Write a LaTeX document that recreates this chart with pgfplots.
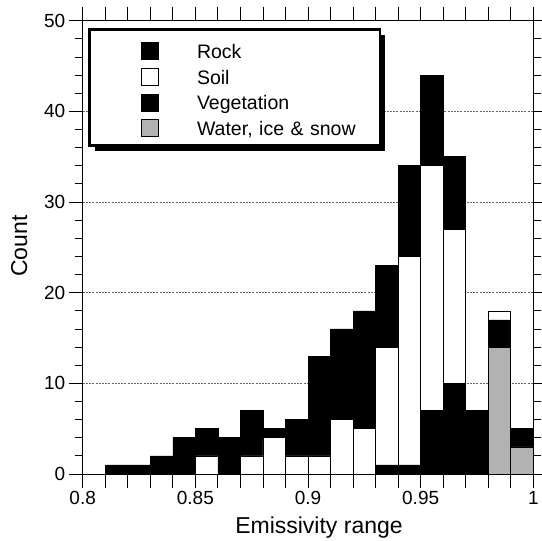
\documentclass[border=0pt]{standalone}
\usepackage{fontspec}
\setmainfont{Liberation Sans}
\usepackage{pgfplots}
\pgfplotsset{compat=1.18}
\usetikzlibrary{shadows}
\definecolor{watergray}{gray}{0.70}
\pgfplotsset{
  sqleg/.style={legend image code/.code={%
    \pgfpathrectangle{\pgfpoint{-52.2pt}{-1pt}}{\pgfpoint{107.5pt}{17pt}}%
    \pgfusepath{use as bounding box}%
    \pgfsetlinewidth{0.6pt}\pgfsetstrokecolor{black}\pgfsetfillcolor{#1}%
    \pgfpathrectangle{\pgfpoint{0pt}{-1pt}}{\pgfpoint{17pt}{17pt}}%
    \pgfusepath{fill,stroke}}},
}
\begin{document}
\begin{tikzpicture}
\begin{axis}[
  name=ax,
  scale only axis,
  width=450.6pt, height=453.3pt,
  xmin=0.8, xmax=1.0, ymin=0, ymax=50,
  ybar stacked, bar width=0.01,
  xtick={0.80,0.81,0.82,0.83,0.84,0.85,0.86,0.87,0.88,0.89,0.90,0.91,0.92,0.93,0.94,0.95,0.96,0.97,0.98,0.99,1.00},
  xticklabels={0.8,,,,,0.85,,,,,0.9,,,,,0.95,,,,,1},
  ytick={0,10,20,30,40,50},
  minor y tick num=4,
  tick align=outside,
  major tick length=14pt, minor tick length=8pt,
  ymajorgrids,
  major grid style={black!60, dash pattern=on 2pt off 1.2pt, line width=0.55pt},
  axis line style={line width=1pt},
  every tick/.style={black, line width=0.8pt},
  tick label style={font=\fontsize{19}{21}\selectfont},
  /pgf/number format/assume math mode=true,
  xlabel={Emissivity range}, ylabel={Count},
  label style={font=\fontsize{23}{25}\selectfont},
  xlabel style={at={(axis description cs:0.5244,-0.1302)}, anchor=base},
  ylabel style={at={(axis description cs:-0.1236,0.503)}, anchor=base},
  legend style={at={(axis description cs:0,1)}, anchor=north west,
    xshift=5.6pt, yshift=-7.6pt, draw=black, line width=2.5pt, fill=white,
    inner xsep=0pt, inner ysep=6.5pt, column sep=0pt, row sep=0pt,
    drop shadow={shadow xshift=5pt, shadow yshift=-5pt, fill=black, opacity=1},
    font=\fontsize{19.5}{21}\selectfont,
    nodes={inner sep=0pt, text height=22.3pt, text depth=3.47pt, text width=183pt, align=left},
    cells={anchor=base west}},
  clip=false,
]
\addlegendimage{sqleg=black}
\addlegendentry{Rock}
\addlegendimage{sqleg=white}
\addlegendentry{Soil}
\addlegendimage{sqleg=black}
\addlegendentry{Vegetation}
\addlegendimage{sqleg=watergray}
\addlegendentry{Water, ice \& snow}

% Water, ice & snow
\addplot[fill=watergray, draw=black, line width=0.6pt, forget plot] coordinates {
(0.815,0) (0.825,0) (0.835,0) (0.845,0) (0.855,0) (0.865,0) (0.875,0) (0.885,0) (0.895,0) (0.905,0)
(0.915,0) (0.925,0) (0.935,0) (0.945,0) (0.955,0) (0.965,0) (0.975,0) (0.985,14) (0.995,3)};
% Rock
\addplot[fill=black, draw=black, line width=0.6pt, forget plot] coordinates {
(0.815,1) (0.825,1) (0.835,2) (0.845,4) (0.855,0) (0.865,4) (0.875,0) (0.885,0) (0.895,0) (0.905,0)
(0.915,0) (0.925,0) (0.935,1) (0.945,1) (0.955,7) (0.965,10) (0.975,7) (0.985,3) (0.995,2)};
% Soil
\addplot[fill=white, draw=black, line width=0.6pt, forget plot] coordinates {
(0.815,0) (0.825,0) (0.835,0) (0.845,0) (0.855,2) (0.865,0) (0.875,2) (0.885,4) (0.895,2) (0.905,2)
(0.915,6) (0.925,5) (0.935,13) (0.945,23) (0.955,27) (0.965,17) (0.975,0) (0.985,1) (0.995,0)};
% Vegetation
\addplot[fill=black, draw=black, line width=0.6pt, forget plot] coordinates {
(0.815,0) (0.825,0) (0.835,0) (0.845,0) (0.855,3) (0.865,0) (0.875,5) (0.885,1) (0.895,4) (0.905,11)
(0.915,10) (0.925,13) (0.935,9) (0.945,10) (0.955,10) (0.965,8) (0.975,0) (0.985,0) (0.995,0)};
\end{axis}
\pgfresetboundingbox
\path ([xshift=-82.7pt,yshift=-66pt]ax.south west) rectangle ([xshift=8.7pt,yshift=20.7pt]ax.north east);
\end{tikzpicture}
\end{document}
